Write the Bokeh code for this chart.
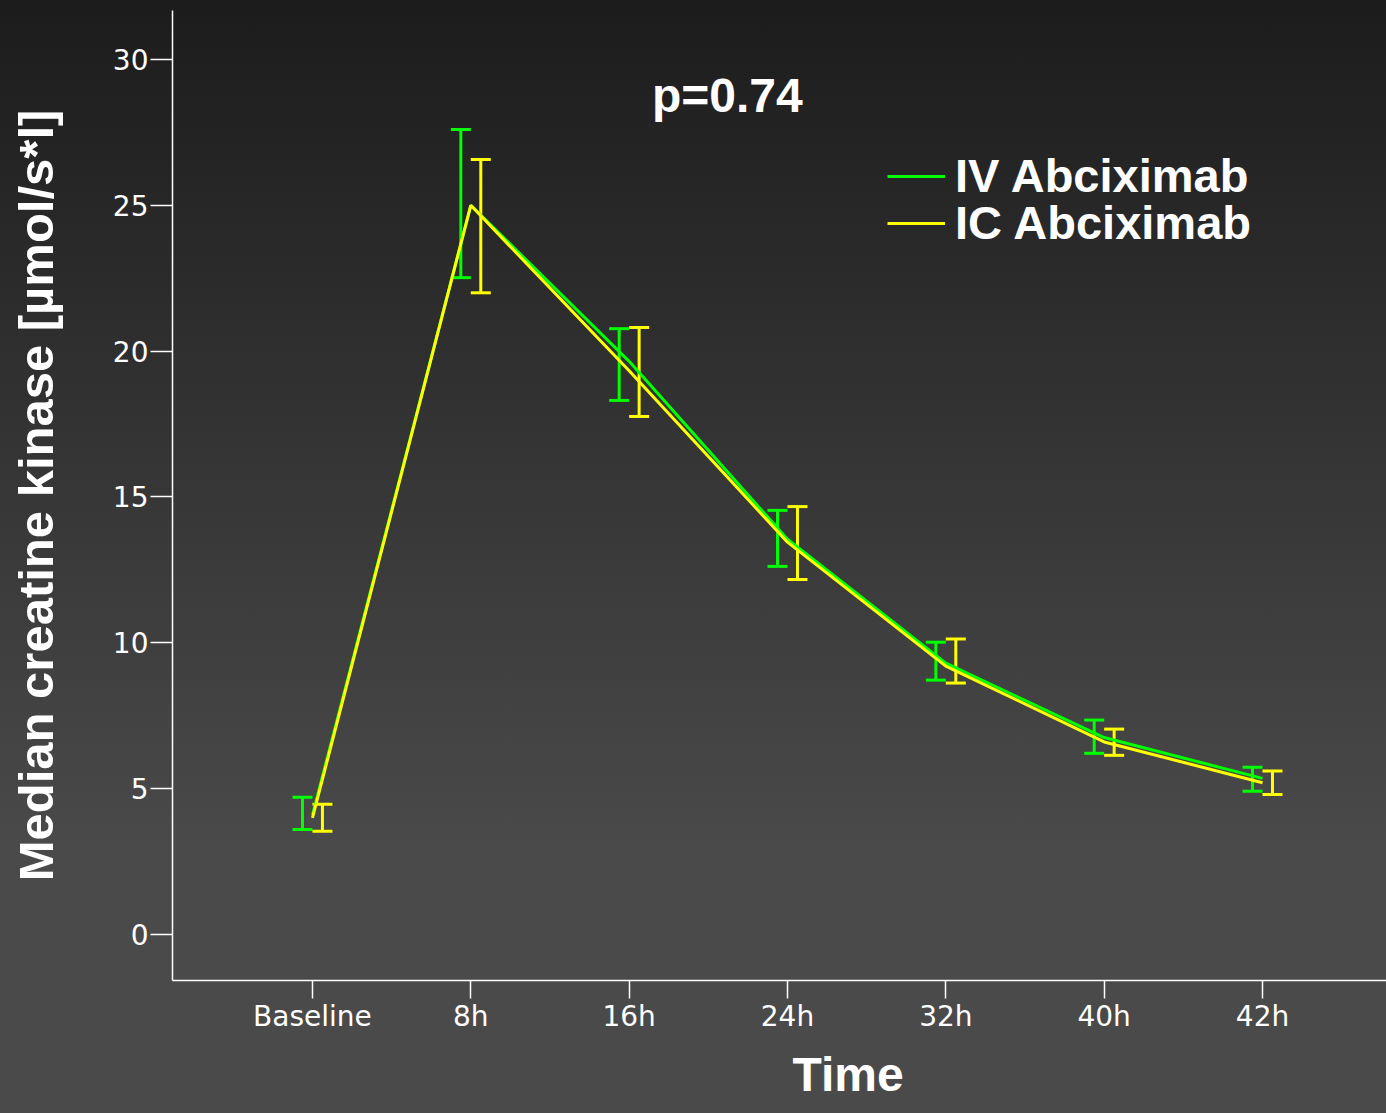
from bokeh.plotting import figure
from bokeh.models import (Range1d, FixedTicker, Whisker, TeeHead, ColumnDataSource,
                          Legend, LegendItem, Label, Title)
from bokeh.transform import dodge
from bokeh.embed import file_html
from bokeh.resources import INLINE

categories = ["Baseline", "8h", "16h", "24h", "32h", "40h", "42h"]
iv_median = [4.1, 25.0, 19.65, 13.55, 9.3, 6.75, 5.35]
iv_lower = [3.6, 22.52, 18.31, 12.62, 8.72, 6.21, 4.91]
iv_upper = [4.70, 27.6, 20.77, 14.54, 10.02, 7.35, 5.73]
ic_median = [4.0, 25.0, 19.33, 13.45, 9.2, 6.6, 5.2]
ic_lower = [3.54, 22.0, 17.76, 12.17, 8.62, 6.14, 4.8]
ic_upper = [4.46, 26.57, 20.81, 14.67, 10.13, 7.04, 5.6]
y_ticks = [0, 5, 10, 15, 20, 25, 30]

xs = list(range(len(categories)))
iv_src = ColumnDataSource(dict(x=xs, med=iv_median, lo=iv_lower, hi=iv_upper))
ic_src = ColumnDataSource(dict(x=xs, med=ic_median, lo=ic_lower, hi=ic_upper))

GREEN = "#00ff00"
YELLOW = "#ffff00"
FONT = "Liberation Sans"
TICK_FONT = "DejaVu Sans"

p = figure(width=1386, height=1113, output_backend="svg", toolbar_location=None,
           x_range=Range1d(-0.884, 6.783), y_range=Range1d(-1.58, 31.68),
           min_border_left=172, min_border_right=0, min_border_top=10, min_border_bottom=133)
p.styles = {"background-image": "linear-gradient(#1c1c1c 0px, #4a4a4a 850px, #4a4a4a 100%)"}
p.background_fill_color = None
p.border_fill_color = None
p.outline_line_color = None
p.grid.visible = False

# axes
for ax in (p.xaxis[0], p.yaxis[0]):
    ax.axis_line_color = "white"
    ax.axis_line_width = 1.5
    ax.major_tick_line_color = "white"
    ax.major_tick_line_width = 1.5
    ax.minor_tick_line_color = None
    ax.major_tick_in = 0
    ax.major_label_text_color = "white"
    ax.major_label_text_font = TICK_FONT
    ax.major_label_text_font_size = "28px"
    ax.axis_label_text_color = "white"
    ax.axis_label_text_font = FONT
    ax.axis_label_text_font_style = "bold"
    ax.axis_label_text_font_size = "49px"

p.xaxis.ticker = FixedTicker(ticks=xs)
p.xaxis.major_label_overrides = {i: c for i, c in enumerate(categories)}
p.xaxis.major_tick_out = 18
p.xaxis.major_label_standoff = 1

p.yaxis.ticker = FixedTicker(ticks=y_ticks)
p.yaxis.major_tick_out = 22
p.yaxis.major_label_standoff = 2
p.yaxis.axis_label = "Median creatine kinase [µmol/s*l]"
p.yaxis.axis_label_standoff = 47

p.add_layout(Title(text="Time", align="left", offset=620, vertical_align="bottom",
                   text_color="white", text_font=FONT, text_font_style="bold",
                   text_font_size="48px", standoff=20), "below")

# lines
r_iv = p.line("x", "med", source=iv_src, line_color=GREEN, line_width=3)
r_ic = p.line("x", "med", source=ic_src, line_color=YELLOW, line_width=3)

# error bars
for src, col, off in ((iv_src, GREEN, -0.063), (ic_src, YELLOW, 0.063)):
    w = Whisker(source=src, base=dodge("x", off), upper="hi", lower="lo",
                dimension="height", line_color=col, line_width=3,
                upper_head=TeeHead(size=20, line_color=col, line_width=3),
                lower_head=TeeHead(size=20, line_color=col, line_width=3))
    p.add_layout(w)

legend_style = dict(background_fill_alpha=0, border_line_color=None,
                    label_text_color="white", label_text_font=FONT,
                    label_text_font_style="bold", label_text_font_size="47px",
                    glyph_width=58, label_standoff=10, padding=0, margin=0)
p.add_layout(Legend(items=[LegendItem(label="IV Abciximab", renderers=[r_iv])],
                    location=(715, 777), **legend_style))
p.add_layout(Legend(items=[LegendItem(label="IC Abciximab", renderers=[r_ic])],
                    location=(715, 730), **legend_style))

p.add_layout(Label(x=2.62, y=28.76, text="p=0.74", text_align="center",
                   text_baseline="alphabetic", text_color="white", text_font=FONT,
                   text_font_style="bold", text_font_size="48px"))

open("out.html", "w").write(file_html(p, INLINE))
